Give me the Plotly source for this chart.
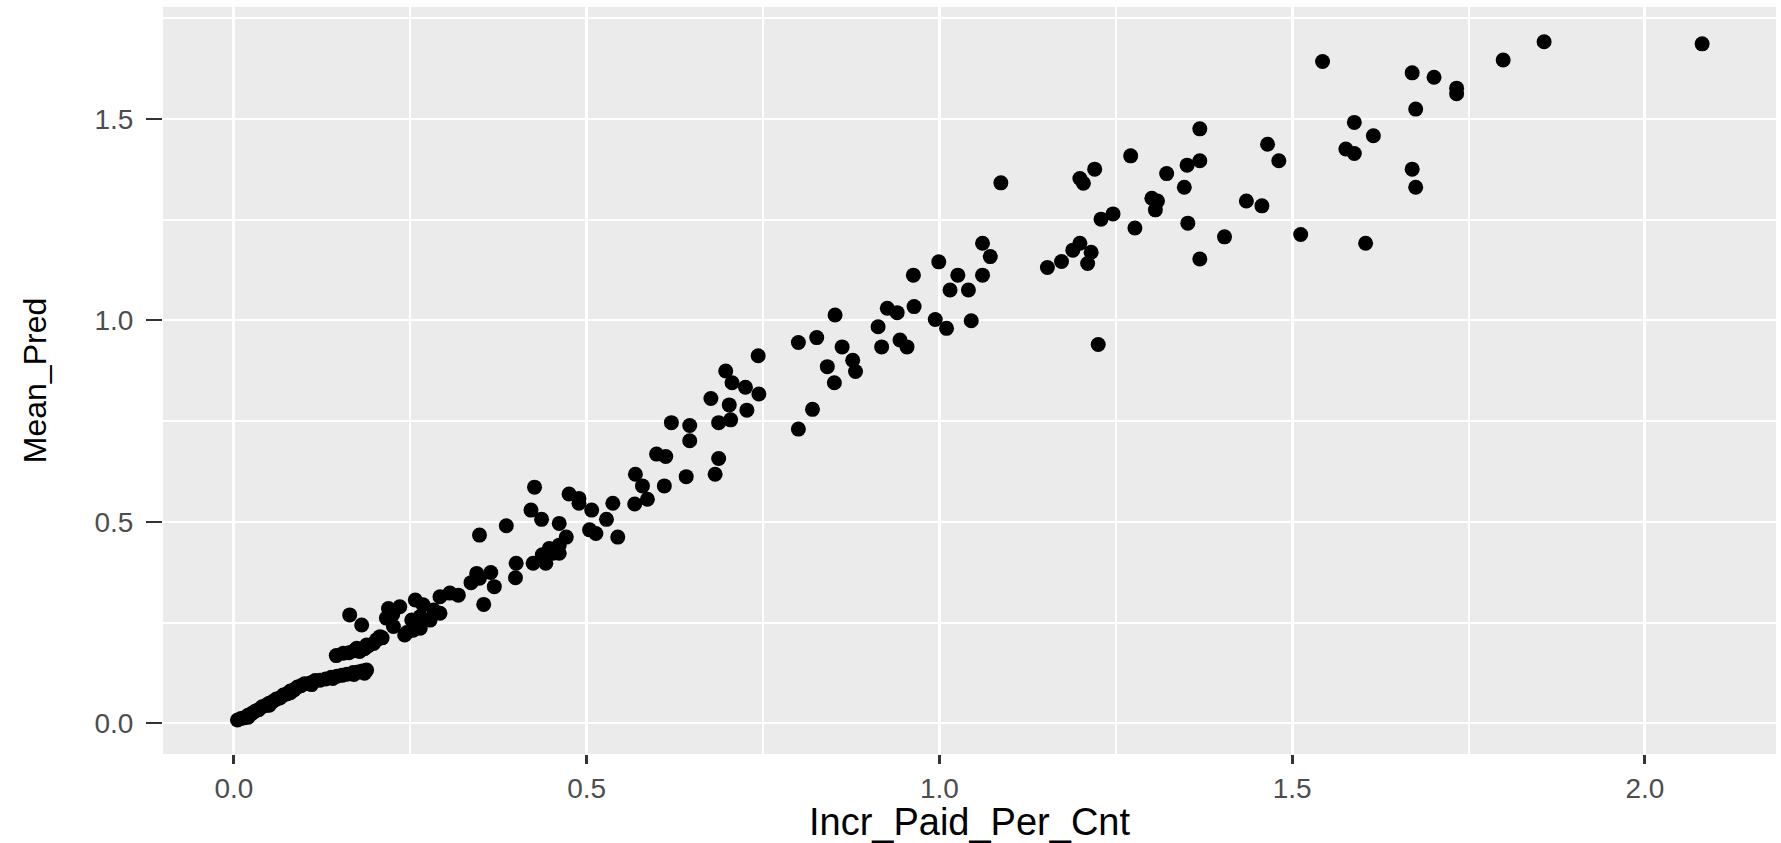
import plotly.graph_objects as go

# ---- data ----
lower_x = [0.005, 0.010, 0.015, 0.020, 0.025, 0.030, 0.035, 0.040, 0.045, 0.050,
           0.055, 0.060, 0.065, 0.070, 0.075, 0.080, 0.085, 0.090, 0.095, 0.100,
           0.108, 0.115, 0.122, 0.130, 0.138, 0.146, 0.153, 0.160, 0.169, 0.176,
           0.182, 0.188, 0.020, 0.050, 0.080, 0.110, 0.140, 0.170, 0.185]
lower_y = [0.008, 0.012, 0.014, 0.020, 0.024, 0.030, 0.034, 0.041, 0.044, 0.050,
           0.054, 0.060, 0.063, 0.070, 0.073, 0.080, 0.083, 0.090, 0.093, 0.098,
           0.100, 0.106, 0.107, 0.110, 0.114, 0.117, 0.119, 0.122, 0.126, 0.127,
           0.130, 0.132, 0.015, 0.045, 0.076, 0.096, 0.111, 0.121, 0.124]

upper_x = [0.145, 0.155, 0.163, 0.170, 0.174, 0.178, 0.185, 0.188, 0.190, 0.198,
           0.202, 0.207, 0.210, 0.164, 0.181]
upper_y = [0.168, 0.174, 0.175, 0.180, 0.186, 0.178, 0.185, 0.194, 0.192, 0.198,
           0.207, 0.215, 0.212, 0.269, 0.244]

cluster_x = [0.216, 0.219, 0.226, 0.235, 0.242, 0.254, 0.264, 0.252, 0.257, 0.268,
             0.283, 0.292, 0.306, 0.318, 0.292, 0.278, 0.264, 0.225, 0.245]
cluster_y = [0.261, 0.285, 0.240, 0.289, 0.219, 0.231, 0.236, 0.256, 0.306, 0.294,
             0.281, 0.314, 0.323, 0.318, 0.273, 0.256, 0.265, 0.270, 0.225]

mid_x = [0.344, 0.364, 0.336, 0.348, 0.369, 0.354, 0.348, 0.386, 0.399, 0.400,
         0.421, 0.424, 0.426, 0.436, 0.437, 0.442, 0.447, 0.452, 0.461, 0.461,
         0.471, 0.475, 0.489, 0.489, 0.504, 0.507, 0.513, 0.528, 0.537, 0.544,
         0.461]
mid_y = [0.372, 0.374, 0.349, 0.360, 0.339, 0.295, 0.467, 0.490, 0.361, 0.397,
         0.529, 0.397, 0.586, 0.506, 0.418, 0.397, 0.434, 0.422, 0.442, 0.496,
         0.462, 0.569, 0.558, 0.546, 0.480, 0.529, 0.471, 0.506, 0.546, 0.462,
         0.422]

upmid_x = [0.999, 0.963, 0.852, 0.926, 0.940, 0.964, 0.994, 1.010, 0.913, 0.918,
           0.944, 0.954, 0.800, 0.826, 0.862, 0.743, 0.841, 0.877, 0.881, 0.851,
           0.820, 0.800, 0.697, 0.706, 0.725, 0.744, 0.676, 0.702, 0.727, 0.687,
           0.704, 0.620, 0.646, 0.646, 0.599, 0.612, 0.687, 0.682, 0.641, 0.569,
           0.579, 0.610, 0.586, 0.568]
upmid_y = [1.145, 1.112, 1.013, 1.030, 1.019, 1.034, 1.002, 0.980, 0.984, 0.934,
           0.951, 0.934, 0.945, 0.957, 0.934, 0.912, 0.885, 0.901, 0.873, 0.845,
           0.779, 0.730, 0.874, 0.845, 0.834, 0.817, 0.806, 0.790, 0.777, 0.746,
           0.753, 0.746, 0.739, 0.701, 0.668, 0.662, 0.657, 0.618, 0.612, 0.618,
           0.589, 0.589, 0.556, 0.544]

high_x = [1.543, 1.670, 1.701, 1.675, 1.588, 1.615, 1.369, 1.465, 1.481, 1.271,
          1.576, 1.588, 1.369, 1.351, 1.322, 1.220, 1.199, 1.204, 1.087, 1.670,
          1.675, 1.347, 1.301, 1.309, 1.306, 1.435, 1.457, 1.229, 1.246, 1.277,
          1.352, 1.404, 1.512, 1.604, 1.369, 1.061, 1.072, 1.026, 1.061, 1.015,
          1.041, 1.045, 1.199, 1.189, 1.215, 1.173, 1.153, 1.210, 1.225,
          1.857, 1.799, 2.081, 1.733, 1.733]
high_y = [1.642, 1.614, 1.603, 1.524, 1.491, 1.458, 1.475, 1.437, 1.396, 1.408,
          1.425, 1.414, 1.396, 1.385, 1.364, 1.375, 1.352, 1.340, 1.341, 1.375,
          1.330, 1.330, 1.303, 1.296, 1.274, 1.296, 1.284, 1.251, 1.264, 1.229,
          1.241, 1.207, 1.213, 1.191, 1.152, 1.191, 1.158, 1.112, 1.112, 1.075,
          1.075, 0.999, 1.191, 1.174, 1.169, 1.146, 1.131, 1.141, 0.940,
          1.691, 1.646, 1.686, 1.576, 1.562]

x_vals = lower_x + upper_x + cluster_x + mid_x + upmid_x + high_x
y_vals = lower_y + upper_y + cluster_y + mid_y + upmid_y + high_y

x_ticks = [0.0, 0.5, 1.0, 1.5, 2.0]
x_labels = ["0.0", "0.5", "1.0", "1.5", "2.0"]
y_ticks = [0.0, 0.5, 1.0, 1.5]
y_labels = ["0.0", "0.5", "1.0", "1.5"]

FONT = "Arial, Liberation Sans, sans-serif"

fig = go.Figure()
fig.add_trace(go.Scatter(
    x=x_vals, y=y_vals, mode="markers",
    marker=dict(color="black", size=15, line=dict(width=0)),
    showlegend=False,
))

fig.update_layout(
    width=1781, height=843,
    margin=dict(l=163, r=5, t=7, b=89),
    plot_bgcolor="#EBEBEB",
    paper_bgcolor="white",
    font=dict(family=FONT),
)

fig.update_xaxes(
    range=[-0.1006, 2.1857],
    tickvals=x_ticks, ticktext=x_labels,
    ticks="outside", ticklen=9, tickwidth=3, tickcolor="#333333",
    tickfont=dict(size=28, color="#4D4D4D", family=FONT),
    showgrid=True, gridcolor="white", gridwidth=3,
    minor=dict(showgrid=True, gridcolor="white", gridwidth=2, tick0=0.25, dtick=0.5),
    zeroline=False, showline=False,
    title=dict(text="Incr_Paid_Per_Cnt", font=dict(size=38, color="black", family=FONT), standoff=0),
)
fig.update_yaxes(
    range=[-0.0762, 1.7774],
    tickvals=y_ticks, ticktext=y_labels,
    ticks="outside", ticklen=16, tickwidth=2, tickcolor="#333333",
    ticklabelstandoff=7,
    tickfont=dict(size=28, color="#4D4D4D", family=FONT),
    showgrid=True, gridcolor="white", gridwidth=2,
    minor=dict(showgrid=True, gridcolor="white", gridwidth=1.5, tick0=0.25, dtick=0.5),
    zeroline=False, showline=False,
    title=dict(text="Mean_Pred", font=dict(size=32, color="black", family=FONT), standoff=38),
)

fig.write_html("out.html")
